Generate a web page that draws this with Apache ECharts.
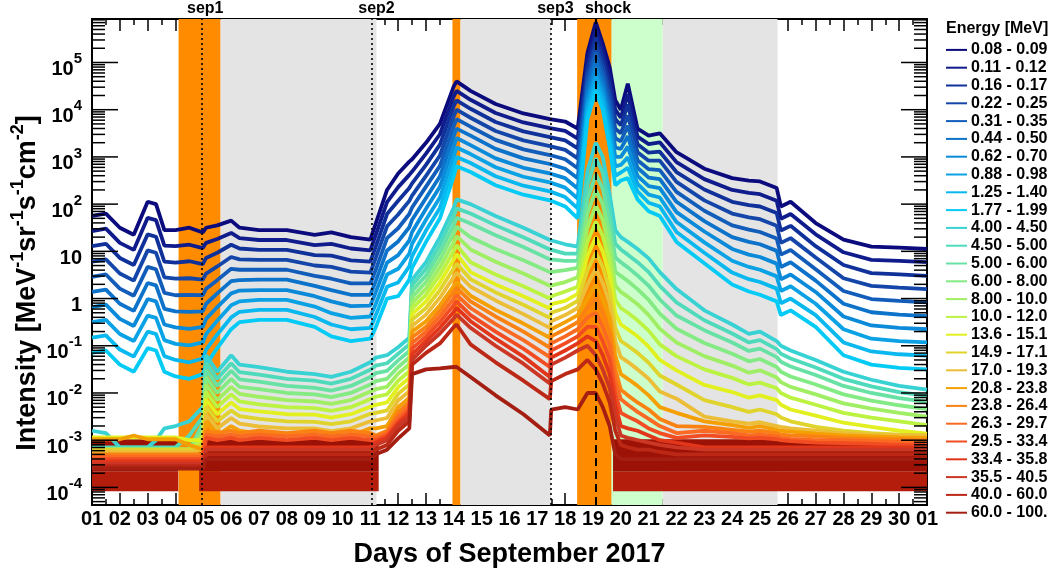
<!DOCTYPE html>
<html><head><meta charset="utf-8">
<script src="https://cdn.jsdelivr.net/npm/echarts@6/dist/echarts.min.js"></script>
<style>html,body{margin:0;padding:0;background:#fff}#c{width:1050px;height:573px}</style>
</head><body><div id="c"></div>
<script>
// ---------- data ----------
// day of month (Sep 2017, fractional); 31 = 01 Oct
const dayTimes = [1.0,1.5,2.0,2.5,3.0,3.3,3.6,4.0,4.5,4.98, 5.1,5.5,6.0,6.3,7.0,8.0,9.0,9.6,10.3,11.0, 11.2,11.6,12.0,12.4,12.5,13.0,13.5,14.0,14.1,14.6, 15.5,16.5,17.45,17.5,18.0,18.45,18.8,19.1,19.35,19.6, 19.8,20.0,20.25,20.6,21.0,21.4,22.0,23.0,24.0,24.6, 25.0,25.6,25.75,26.1,27.0,28.0,29.0,30.0,31.0];
const energyBins = ['0.08 - 0.09','0.11 - 0.12','0.16 - 0.17','0.22 - 0.25','0.31 - 0.35','0.44 - 0.50','0.62 - 0.70','0.88 - 0.98','1.25 - 1.40','1.77 - 1.99','4.00 - 4.50','4.50 - 5.00','5.00 - 6.00','6.00 - 8.00','8.00 - 10.0','10.0 - 12.0','13.6 - 15.1','14.9 - 17.1','17.0 - 19.3','20.8 - 23.8','23.8 - 26.4','26.3 - 29.7','29.5 - 33.4','33.4 - 35.8','35.5 - 40.5','40.0 - 60.0','60.0 - 100.'];
// log10 of intensity [MeV^-1 sr^-1 s^-1 cm^-2], one value per dayTimes entry
const logI_0p08 = [1.75,1.8,1.5,1.35,2.05,2.0,1.45,1.45,1.5,1.4, 1.5,1.55,1.65,1.5,1.45,1.45,1.35,1.4,1.3,1.25, 1.6,2.3,2.65,2.9,2.95,3.3,3.7,4.5,4.6,4.4, 4.12,3.92,3.8,3.78,3.75,3.6,5.2,5.85,5.4,4.9, 4.2,4.0,4.55,3.6,3.45,3.5,3.1,2.75,2.55,2.5, 2.48,2.34,1.95,2.05,1.6,1.25,1.1,1.08,1.05];
const logI_0p11 = [1.43,1.48,1.18,1.03,1.71,1.66,1.12,1.11,1.14,1.07, 1.18,1.26,1.39,1.28,1.24,1.24,1.13,1.16,1.06,1.02, 1.36,2.04,2.36,2.62,2.69,3.07,3.48,4.29,4.4,4.21, 3.93,3.73,3.61,3.59,3.55,3.39,5.04,5.69,5.24,4.71, 4.0,3.83,4.33,3.43,3.27,3.31,2.89,2.53,2.3,2.24, 2.21,2.07,1.69,1.79,1.36,0.98,0.82,0.8,0.77];
const logI_0p16 = [1.11,1.16,0.86,0.71,1.36,1.31,0.78,0.76,0.79,0.73, 0.86,0.97,1.14,1.06,1.03,1.03,0.92,0.91,0.81,0.78, 1.11,1.79,2.07,2.34,2.44,2.83,3.26,4.08,4.2,4.02, 3.74,3.54,3.42,3.4,3.35,3.18,4.89,5.53,5.09,4.52, 3.8,3.67,4.11,3.27,3.09,3.11,2.68,2.31,2.05,1.98, 1.95,1.81,1.44,1.54,1.11,0.71,0.54,0.51,0.48];
const logI_0p22 = [0.78,0.83,0.53,0.38,1.02,0.97,0.45,0.42,0.43,0.4, 0.53,0.68,0.88,0.83,0.82,0.82,0.7,0.67,0.57,0.55, 0.87,1.53,1.78,2.07,2.18,2.6,3.03,3.87,4.0,3.83, 3.55,3.35,3.23,3.21,3.15,2.97,4.73,5.37,4.93,4.33, 3.6,3.5,3.88,3.1,2.92,2.92,2.47,2.08,1.8,1.72, 1.68,1.54,1.18,1.28,0.87,0.43,0.27,0.23,0.2];
const logI_0p31 = [0.46,0.51,0.21,0.06,0.67,0.62,0.12,0.07,0.08,0.07, 0.21,0.39,0.63,0.61,0.61,0.61,0.48,0.42,0.32,0.32, 0.62,1.28,1.49,1.79,1.93,2.37,2.81,3.66,3.8,3.64, 3.36,3.16,3.04,3.02,2.95,2.76,4.58,5.21,4.78,4.14, 3.4,3.33,3.66,2.93,2.74,2.72,2.26,1.86,1.55,1.46, 1.41,1.27,0.93,1.03,0.62,0.16,-0.01,-0.05,-0.08];
const logI_0p44 = [0.14,0.19,-0.11,-0.26,0.33,0.28,-0.22,-0.27,-0.28,-0.27, -0.11,0.11,0.37,0.39,0.4,0.4,0.27,0.18,0.08,0.08, 0.38,1.02,1.21,1.51,1.67,2.13,2.59,3.45,3.6,3.45, 3.17,2.97,2.85,2.83,2.75,2.55,4.42,5.05,4.62,3.95, 3.2,3.17,3.44,2.77,2.56,2.53,2.05,1.64,1.3,1.2, 1.15,1.01,0.67,0.77,0.38,-0.11,-0.29,-0.34,-0.37];
const logI_0p62 = [-0.18,-0.13,-0.43,-0.58,-0.01,-0.06,-0.55,-0.61,-0.64,-0.6, -0.43,-0.18,0.11,0.17,0.18,0.18,0.05,-0.06,-0.16,-0.15, 0.14,0.76,0.92,1.23,1.41,1.9,2.37,3.23,3.4,3.25, 2.97,2.77,2.65,2.63,2.55,2.33,4.26,4.88,4.46,3.77, 3.0,3.0,3.22,2.6,2.38,2.34,1.83,1.42,1.05,0.93, 0.88,0.74,0.41,0.51,0.14,-0.38,-0.57,-0.62,-0.65];
const logI_0p88 = [-0.5,-0.45,-0.75,-0.9,-0.36,-0.41,-0.88,-0.96,-0.99,-0.93, -0.75,-0.47,-0.14,-0.06,-0.03,-0.03,-0.17,-0.31,-0.41,-0.38, -0.11,0.51,0.63,0.95,1.16,1.67,2.14,3.02,3.2,3.06, 2.78,2.58,2.46,2.44,2.35,2.12,4.11,4.72,4.31,3.58, 2.8,2.83,2.99,2.43,2.2,2.14,1.62,1.19,0.8,0.67, 0.61,0.47,0.16,0.26,-0.11,-0.65,-0.85,-0.9,-0.93];
const logI_1p25 = [-0.83,-0.78,-1.08,-1.23,-0.7,-0.75,-1.22,-1.3,-1.35,-1.27, -1.08,-0.76,-0.4,-0.28,-0.24,-0.24,-0.39,-0.55,-0.65,-0.62, -0.35,0.25,0.34,0.68,0.9,1.44,1.92,2.81,3.0,2.87, 2.59,2.39,2.27,2.25,2.15,1.91,3.95,4.56,4.15,3.39, 2.6,2.67,2.77,2.27,2.03,1.95,1.41,0.97,0.55,0.41, 0.35,0.21,-0.1,0.0,-0.35,-0.93,-1.12,-1.18,-1.21];
const logI_1p77 = [-1.15,-1.1,-1.4,-1.55,-1.05,-1.1,-1.55,-1.65,-1.7,-1.6, -1.4,-1.05,-0.65,-0.5,-0.45,-0.45,-0.6,-0.8,-0.9,-0.85, -0.6,0.0,0.05,0.4,0.65,1.2,1.7,2.6,2.8,2.68, 2.4,2.2,2.08,2.06,1.95,1.7,3.8,4.4,4.0,3.2, 2.4,2.5,2.55,2.1,1.85,1.75,1.2,0.75,0.3,0.15, 0.08,-0.06,-0.35,-0.25,-0.6,-1.2,-1.4,-1.47,-1.5];
const logI_4p00 = [-2.8,-2.85,-3.15,-3.15,-3.15,-3.0,-2.75,-2.7,-2.6,-2.3, -1.2,-1.55,-1.2,-1.4,-1.45,-1.55,-1.6,-1.66,-1.55,-1.35, -1.25,-1.2,-1.03,-0.83,0.4,0.77,1.3,1.93,2.1,2.0, 1.75,1.5,1.24,1.2,1.15,1.1,2.7,3.3,3.0,2.2, 1.45,1.3,1.2,1.05,0.85,0.56,0.2,-0.25,-0.55,-0.75, -0.7,-0.9,-1.0,-1.1,-1.3,-1.55,-1.72,-1.85,-1.93];
const logI_4p50 = [-3.15,-3.15,-3.15,-3.15,-3.15,-3.15,-3.15,-3.15,-2.9,-2.5, -1.36,-1.7,-1.37,-1.56,-1.61,-1.7,-1.74,-1.8,-1.7,-1.51, -1.42,-1.37,-1.17,-0.97,0.28,0.63,1.14,1.75,1.91,1.8, 1.55,1.3,1.04,1.02,0.95,0.95,2.4,2.97,2.67,1.91, 1.16,1.04,0.93,0.77,0.56,0.27,-0.08,-0.46,-0.74,-0.93, -0.88,-1.07,-1.17,-1.27,-1.46,-1.7,-1.86,-1.98,-2.06];
const logI_5p00 = [-3.2,-3.2,-3.2,-3.2,-3.2,-3.2,-3.2,-3.2,-3.2,-2.65, -1.51,-1.85,-1.53,-1.71,-1.76,-1.85,-1.89,-1.95,-1.85,-1.66, -1.58,-1.53,-1.31,-1.11,0.16,0.49,0.98,1.56,1.71,1.59, 1.34,1.09,0.83,0.82,0.8,0.8,2.1,2.63,2.33,1.62, 0.87,0.77,0.66,0.49,0.27,-0.02,-0.36,-0.67,-0.93,-1.11, -1.06,-1.24,-1.34,-1.44,-1.62,-1.85,-2.0,-2.11,-2.19];
const logI_6p00 = [-3.2,-3.2,-3.2,-3.2,-3.2,-3.2,-3.2,-3.2,-3.2,-2.8, -1.67,-2.0,-1.7,-1.87,-1.92,-2.0,-2.03,-2.09,-2.0,-1.82, -1.75,-1.7,-1.45,-1.25,0.03,0.35,0.82,1.38,1.52,1.3, 1.05,0.81,0.56,0.57,0.6,0.65,1.8,2.3,2.0,1.33, 0.57,0.48,0.37,0.2,-0.03,-0.32,-0.64,-0.94,-1.17,-1.33, -1.28,-1.45,-1.55,-1.65,-1.82,-2.03,-2.16,-2.26,-2.34];
const logI_8p00 = [-3.2,-3.2,-3.2,-3.2,-3.2,-3.2,-3.2,-3.2,-3.2,-2.9, -1.82,-2.15,-1.87,-2.02,-2.08,-2.15,-2.18,-2.23,-2.15,-1.97, -1.92,-1.87,-1.59,-1.39,-0.09,0.21,0.66,1.19,1.32,1.04, 0.78,0.53,0.27,0.3,0.35,0.45,1.5,1.97,1.67,1.04, 0.28,0.14,0.04,-0.12,-0.35,-0.64,-0.93,-1.22,-1.42,-1.57, -1.52,-1.67,-1.77,-1.87,-2.03,-2.22,-2.33,-2.42,-2.5];
const logI_10p0 = [-3.2,-3.2,-3.2,-3.2,-3.2,-3.2,-3.2,-3.2,-3.2,-3.0, -1.98,-2.3,-2.03,-2.18,-2.24,-2.3,-2.32,-2.38,-2.3,-2.13, -2.08,-2.03,-1.74,-1.54,-0.21,0.08,0.5,1.01,1.13,0.77, 0.51,0.26,0.0,0.05,0.15,0.25,1.2,1.63,1.33,0.76, -0.02,-0.2,-0.3,-0.46,-0.68,-0.97,-1.22,-1.5,-1.68,-1.82, -1.78,-1.9,-2.0,-2.1,-2.25,-2.42,-2.52,-2.6,-2.68];
const logI_13p6 = [-2.94,-2.94,-2.94,-2.94,-2.94,-2.94,-2.94,-2.94,-3.0,-3.0, -2.14,-2.45,-2.2,-2.34,-2.39,-2.45,-2.46,-2.52,-2.45,-2.29, -2.25,-2.2,-1.88,-1.68,-0.33,-0.06,0.34,0.83,0.94,0.56, 0.3,0.05,-0.21,-0.12,-0.05,0.1,0.9,1.3,1.0,0.47, -0.31,-0.55,-0.65,-0.8,-1.02,-1.3,-1.52,-1.83,-1.98,-2.1, -2.05,-2.15,-2.25,-2.35,-2.48,-2.63,-2.72,-2.8,-2.86];
const logI_14p9 = [-3.2,-3.2,-3.2,-3.2,-3.2,-3.2,-3.2,-3.2,-3.2,-3.1, -2.29,-2.6,-2.37,-2.49,-2.55,-2.6,-2.61,-2.66,-2.6,-2.44, -2.42,-2.37,-2.02,-1.82,-0.45,-0.2,0.18,0.64,0.74,0.41, 0.13,-0.13,-0.41,-0.3,-0.2,-0.05,0.6,0.97,0.67,0.18, -0.61,-0.9,-1.0,-1.15,-1.36,-1.63,-1.82,-2.15,-2.3,-2.4, -2.35,-2.45,-2.52,-2.6,-2.72,-2.8,-2.85,-2.88,-2.9];
const logI_17p0 = [-3.25,-3.25,-3.25,-3.25,-3.25,-3.25,-3.25,-3.25,-3.25,-3.2, -2.45,-2.75,-2.53,-2.65,-2.71,-2.75,-2.75,-2.81,-2.75,-2.6, -2.58,-2.53,-2.16,-1.96,-0.58,-0.34,0.02,0.46,0.55,0.25, -0.04,-0.33,-0.62,-0.48,-0.35,-0.2,0.3,0.63,0.33,-0.11, -0.9,-1.24,-1.34,-1.5,-1.7,-1.97,-2.12,-2.5,-2.6,-2.65, -2.62,-2.7,-2.72,-2.75,-2.8,-2.85,-2.88,-2.9,-2.9];
const logI_20p8 = [-2.98,-2.98,-2.98,-2.9,-2.98,-2.98,-2.98,-2.98,-3.1,-3.2, -2.6,-2.9,-2.7,-2.8,-2.86,-2.9,-2.9,-2.95,-2.9,-2.75, -2.75,-2.7,-2.3,-2.1,-0.7,-0.48,-0.14,0.27,0.35,0.06, -0.24,-0.53,-0.83,-0.65,-0.5,-0.35,0.0,0.3,0.0,-0.4, -1.2,-1.6,-1.7,-1.85,-2.05,-2.3,-2.42,-2.6,-2.68,-2.74, -2.7,-2.78,-2.8,-2.82,-2.86,-2.9,-2.92,-2.94,-2.95];
const logI_23p8 = [-3.3,-3.3,-3.3,-3.3,-3.3,-3.3,-3.3,-3.3,-3.3,-3.3, -2.8,-2.85,-2.8,-2.85,-2.8,-2.85,-2.8,-2.85,-2.8,-2.85, -2.9,-2.8,-2.4,-2.2,-0.82,-0.6,-0.26,0.14,0.22,-0.06, -0.38,-0.7,-1.04,-0.8,-0.65,-0.5,-0.2,0.0,-0.3,-0.7, -1.5,-1.93,-2.05,-2.2,-2.35,-2.55,-2.7,-2.72,-2.78,-2.82, -2.8,-2.85,-2.88,-2.9,-2.92,-2.95,-2.97,-2.98,-3.0];
const logI_26p3 = [-3.35,-3.35,-3.35,-3.35,-3.35,-3.35,-3.35,-3.35,-3.35,-3.35, -2.88,-2.92,-2.88,-2.92,-2.88,-2.92,-2.88,-2.92,-2.88,-2.92, -2.95,-2.85,-2.5,-2.28,-0.94,-0.7,-0.38,0.0,0.08,-0.2, -0.54,-0.88,-1.24,-0.95,-0.8,-0.65,-0.4,-0.3,-0.6,-1.0, -1.75,-2.13,-2.25,-2.4,-2.55,-2.7,-2.85,-2.8,-2.85,-2.9, -2.88,-2.92,-2.95,-2.97,-3.0,-3.0,-3.02,-3.03,-3.05];
const logI_29p5 = [-3.4,-3.4,-3.4,-3.4,-3.4,-3.4,-3.4,-3.4,-3.4,-3.4, -2.95,-3.0,-2.95,-3.0,-2.95,-3.0,-2.95,-3.0,-2.95,-3.0, -3.0,-2.9,-2.6,-2.36,-1.06,-0.8,-0.5,-0.14,-0.06,-0.35, -0.7,-1.06,-1.45,-1.1,-0.95,-0.8,-0.6,-0.6,-0.9,-1.3, -2.0,-2.42,-2.5,-2.6,-2.75,-2.85,-2.95,-2.9,-2.93,-2.96, -2.95,-2.98,-3.0,-3.02,-3.05,-3.06,-3.08,-3.1,-3.1];
const logI_33p4 = [-3.45,-3.45,-3.45,-3.45,-3.45,-3.45,-3.45,-3.45,-3.45,-3.45, -3.15,-3.15,-3.15,-3.15,-3.15,-3.15,-3.15,-3.15,-3.15,-3.15, -3.05,-2.95,-2.65,-2.44,-1.18,-0.9,-0.62,-0.28,-0.2,-0.48, -0.85,-1.23,-1.66,-1.25,-1.1,-0.95,-0.8,-0.9,-1.2,-1.6, -2.25,-2.7,-2.75,-2.8,-2.9,-3.0,-3.05,-3.15,-3.15,-3.15, -3.15,-3.15,-3.15,-3.15,-3.15,-3.15,-3.15,-3.15,-3.15];
const logI_35p5 = [-3.5,-3.5,-3.5,-3.5,-3.5,-3.5,-3.5,-3.5,-3.5,-3.5, -3.2,-3.2,-3.2,-3.2,-3.2,-3.2,-3.2,-3.2,-3.2,-3.2, -3.1,-3.0,-2.7,-2.5,-1.3,-1.0,-0.74,-0.42,-0.34,-0.62, -1.0,-1.38,-1.8,-1.4,-1.25,-1.1,-1.0,-1.2,-1.5,-1.9, -2.5,-2.9,-2.95,-3.0,-3.05,-3.1,-3.15,-3.2,-3.2,-3.2, -3.2,-3.2,-3.2,-3.2,-3.2,-3.2,-3.2,-3.2,-3.2];
const logI_40p0 = [-3.55,-3.55,-3.55,-3.55,-3.55,-3.55,-3.55,-3.55,-3.55,-3.55, -3.3,-3.3,-3.3,-3.3,-3.3,-3.3,-3.3,-3.3,-3.3,-3.3, -3.2,-3.1,-2.8,-2.6,-1.4,-1.15,-0.95,-0.6,-0.55,-0.97, -1.35,-1.74,-2.13,-1.75,-1.6,-1.5,-1.3,-1.5,-1.8,-2.2, -2.8,-3.1,-3.15,-3.2,-3.2,-3.25,-3.3,-3.3,-3.3,-3.3, -3.3,-3.3,-3.3,-3.3,-3.3,-3.3,-3.3,-3.3,-3.3];
const logI_60p0 = [-3.6,-3.6,-3.6,-3.6,-3.6,-3.6,-3.6,-3.6,-3.6,-3.6, -3.4,-3.4,-3.4,-3.4,-3.4,-3.4,-3.4,-3.4,-3.4,-3.4, -3.3,-3.2,-2.96,-2.75,-1.6,-1.5,-1.48,-1.45,-1.45,-1.66, -2.05,-2.45,-2.9,-2.35,-2.3,-2.35,-2.0,-2.0,-2.3,-2.7, -3.3,-3.4,-3.4,-3.4,-3.4,-3.4,-3.4,-3.4,-3.4,-3.4, -3.4,-3.4,-3.4,-3.4,-3.4,-3.4,-3.4,-3.4,-3.4];
const logIntensity = [logI_0p08,logI_0p11,logI_0p16,logI_0p22,logI_0p31,logI_0p44,logI_0p62,logI_0p88,logI_1p25,logI_1p77,logI_4p00,logI_4p50,logI_5p00,logI_6p00,logI_8p00,logI_10p0,logI_13p6,logI_14p9,logI_17p0,logI_20p8,logI_23p8,logI_26p3,logI_29p5,logI_33p4,logI_35p5,logI_40p0,logI_60p0];

// background counting-noise floor (day ranges and intensity levels)
const floorSegments = [[1.0, 4.1], [4.85, 11.3], [19.72, 31.0]];
const floorLevels = [8.3e-5, 2.14e-4, 1.05e-3];
// shaded periods (day of month)
const orangeBands = [[4.11, 5.62], [13.95, 14.24], [18.43, 19.67]];
const grayBands = [[5.62, 11.22], [14.24, 17.49], [21.5, 25.63]];
const greenBands = [[19.67, 21.5]];
// event markers
const eventNames = ['sep1', 'sep2', 'sep3', 'shock'];
const eventDays = [4.96, 11.06, 17.47, 19.09];
// y tick labels
const yMajorTicks = [1e-4, 1e-3, 1e-2, 1e-1, 1, 10, 1e2, 1e3, 1e4, 1e5];
const yTickBase = ['10','10','10','10','1','10','10','10','10','10'];
const yTickExp = ['-4','-3','-2','-1','','','2','3','4','5'];

// ---------- style ----------
const seriesColors = ['#0b0b7e','#101c8c','#10309a','#1446aa','#125cba','#0c72ca','#0a8ad8','#0aa2e4','#08b8ee','#04cbf6','#38d2d4','#50dabc','#68e2a4','#84ea84','#a0ee64','#bcf242','#e2f020','#e0d42c','#ecbe38','#f4a004','#fa8212','#fa6a22','#f24c22','#e2361a','#cc3624','#bc2816','#a41e12'];
const FONT = "'Liberation Sans', Arial, Helvetica, sans-serif";
const NARROW = "'Liberation Sans Narrow', 'Liberation Sans', Arial, sans-serif";
const X_MIN = 1, X_MAX = 31, Y_MIN = 4.24e-5, Y_MAX = 8.34e5;
const labelShift = [6, 9, 10, 25];

const chart = echarts.init(document.getElementById('c'), null, {renderer: 'canvas', width: 1050, height: 573});

const lineSeries = energyBins.map((name, k) => ({
  name, type: 'line', showSymbol: false, symbol: 'none', z: 2, silent: true, animation: false,
  lineStyle: {color: seriesColors[k], width: k < 10 ? 3.8 : 3.8},
  itemStyle: {color: seriesColors[k]},
  data: dayTimes.map((t, i) => [t, Math.pow(10, logIntensity[k][i])])
}));

const bandSeries = {
  name: '_bands', type: 'line', data: [], z: 1, silent: true, animation: false,
  markArea: {silent: true, animation: false, data: [
    ...orangeBands.map(b => [{xAxis: b[0], itemStyle: {color: '#ff8c00', opacity: 1}}, {xAxis: b[1]}]),
    ...grayBands.map(b => [{xAxis: b[0], itemStyle: {color: '#e4e4e4', opacity: 1}}, {xAxis: b[1]}]),
    ...greenBands.map(b => [{xAxis: b[0], itemStyle: {color: '#ccffcc', opacity: 1}}, {xAxis: b[1]}])
  ]}
};

const floorSeries = {
  name: '_floor', type: 'line', data: [], z: 3, silent: true, animation: false,
  markArea: {silent: true, animation: false, data: [
    ...floorSegments.map(s => [{xAxis: s[0], yAxis: floorLevels[1], itemStyle: {color: '#9c1206', opacity: 1}}, {xAxis: s[1], yAxis: floorLevels[2]}]),
    ...floorSegments.map(s => [{xAxis: s[0], yAxis: floorLevels[0], itemStyle: {color: '#b41c0c', opacity: 1}}, {xAxis: s[1], yAxis: floorLevels[1]}])
  ]}
};

const eventSeries = {
  name: '_events', type: 'line', data: [], z: 4, silent: true, animation: false,
  markLine: {symbol: ['none', 'none'], silent: true, animation: false,
    label: {show: true, position: 'end', formatter: '{b}', color: '#000', fontSize: 16, fontWeight: 'bold', fontFamily: FONT, distance: 2},
    data: eventNames.map((n, i) => ({
      name: n, xAxis: eventDays[i],
      lineStyle: {color: '#000', width: i === 3 ? 2 : 1.6, type: i === 3 ? [8, 5] : [2, 3]},
      label: {padding: [0, 0, 0, labelShift[i]]}
    }))
  }
};

// y-axis ticks (log, ROOT style) and labels
const tickData = yMajorTicks.map((v, i) => [X_MIN, v, 1, i]);
for (let e = -5; e <= 5; e++) for (let m = 2; m <= 9; m++) {
  const v = m * Math.pow(10, e);
  if (v > Y_MIN && v < Y_MAX) tickData.push([X_MIN, v, 0, -1]);
}
const tickSeries = {
  name: '_yticks', type: 'custom', z: 6, silent: true, clip: false, animation: false,
  data: tickData,
  renderItem: function (params, api) {
    const cs = params.coordSys;
    const v = api.value(1), major = api.value(2) === 1, idx = api.value(3);
    const y = api.coord([X_MIN, v])[1];
    const len = major ? 26 : 13;
    const children = [
      {type: 'line', shape: {x1: cs.x, y1: y, x2: cs.x + len, y2: y}, style: {stroke: '#000', lineWidth: 1.5}},
      {type: 'line', shape: {x1: cs.x + cs.width - len, y1: y, x2: cs.x + cs.width, y2: y}, style: {stroke: '#000', lineWidth: 1.5}}
    ];
    if (major) {
      const txt = yTickExp[idx] ? '{b|' + yTickBase[idx] + '}{s|' + yTickExp[idx] + '}' : '{b|' + yTickBase[idx] + '}';
      children.push({type: 'text', x: cs.x - 10, y: y + 3, style: {
        text: txt, align: 'right', verticalAlign: 'middle', fill: '#000',
        rich: {
          b: {fontSize: 20, fontWeight: 'bold', fontFamily: FONT, lineHeight: 28, verticalAlign: 'bottom', fill: '#000'},
          s: {fontSize: 15, fontWeight: 'bold', fontFamily: FONT, lineHeight: 14, verticalAlign: 'top', fill: '#000'}
        }
      }});
    }
    return {type: 'group', children};
  }
};

const xTickCommon = {
  type: 'value', min: X_MIN, max: X_MAX, interval: 1,
  splitLine: {show: false},
  axisLine: {show: true, lineStyle: {color: '#000', width: 2}},
  axisTick: {show: true, inside: true, length: 12, lineStyle: {color: '#000', width: 1.5}},
  minorTick: {show: true, splitNumber: 2, length: 6, lineStyle: {color: '#000', width: 1.5}}
};

chart.setOption({
  animation: false,
  backgroundColor: '#fff',
  title: {text: 'Energy [MeV]', left: 941, top: 16, textStyle: {fontFamily: FONT, fontWeight: 'bold', fontSize: 16, color: '#000'}},
  legend: {
    orient: 'vertical', left: 941, top: 36, itemWidth: 21, itemHeight: 2, itemGap: 0, icon: 'rect',
    selectedMode: false, data: energyBins,
    textStyle: {fontFamily: NARROW, fontWeight: 'bold', fontSize: 16, color: '#000', lineHeight: 17.8, padding: [0, 0, 0, -1]}
  },
  grid: {left: 92, right: 123, top: 19, bottom: 57, show: true, borderColor: '#000', borderWidth: 2, backgroundColor: 'transparent'},
  xAxis: [
    Object.assign({}, xTickCommon, {
      position: 'bottom',
      name: 'Days of September 2017', nameLocation: 'middle', nameGap: 36,
      nameTextStyle: {fontFamily: FONT, fontWeight: 'bold', fontSize: 27, color: '#000'},
      axisLabel: {show: true, margin: 4, color: '#000', fontFamily: FONT, fontWeight: 'bold', fontSize: 20,
        formatter: v => (v === X_MAX ? '01' : String(v).padStart(2, '0'))}
    }),
    Object.assign({}, xTickCommon, {position: 'top', axisLabel: {show: false}})
  ],
  yAxis: {
    type: 'log', logBase: 10, min: Y_MIN, max: Y_MAX,
    axisLine: {show: true, lineStyle: {color: '#000', width: 2}},
    axisTick: {show: false}, axisLabel: {show: false}, splitLine: {show: false}, minorTick: {show: false}
  },
  graphic: [{
    type: 'text', x: 25, y: 283, rotation: Math.PI / 2, silent: true,
    style: {
      text: '{b|Intensity [MeV}{s|-1}{b|sr}{s|-1}{b|s}{s|-1}{b|cm}{s|-2}{b|]}',
      align: 'center', verticalAlign: 'middle', fill: '#000',
      rich: {
        b: {fontSize: 27, fontWeight: 'bold', fontFamily: FONT, lineHeight: 32, verticalAlign: 'bottom', fill: '#000'},
        s: {fontSize: 18, fontWeight: 'bold', fontFamily: FONT, lineHeight: 18, verticalAlign: 'top', fill: '#000'}
      }
    }
  }],
  series: [bandSeries, ...lineSeries, floorSeries, eventSeries, tickSeries]
});
</script>
</body></html>
